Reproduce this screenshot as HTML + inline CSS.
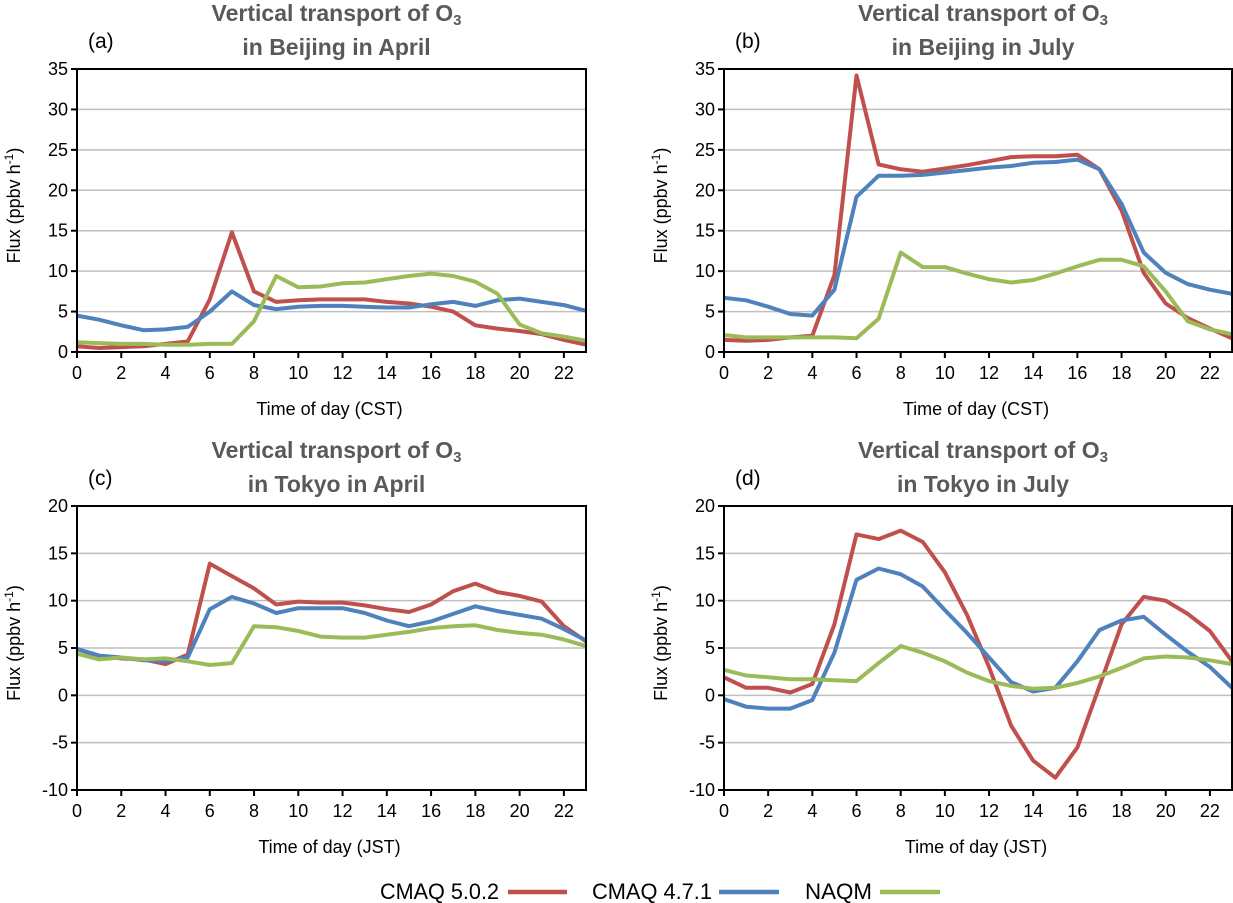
<!DOCTYPE html>
<html><head><meta charset="utf-8">
<style>
body{margin:0;background:#fff;}
svg{display:block;font-family:"Liberation Sans",sans-serif;}
</style></head>
<body>
<svg id="chart" width="1233" height="903" viewBox="0 0 1233 903" xmlns="http://www.w3.org/2000/svg">
<g font-size="22" fill="#000">
  <text x="380" y="899" textLength="119" lengthAdjust="spacingAndGlyphs">CMAQ 5.0.2</text>
  <line x1="508" y1="892" x2="567" y2="892" stroke="#C0504D" stroke-width="4.5"/>
  <text x="592" y="899" textLength="120" lengthAdjust="spacingAndGlyphs">CMAQ 4.7.1</text>
  <line x1="719" y1="892" x2="779" y2="892" stroke="#4F81BD" stroke-width="4.5"/>
  <text x="805" y="899" textLength="67" lengthAdjust="spacingAndGlyphs">NAQM</text>
  <line x1="880" y1="892" x2="940" y2="892" stroke="#9BBB59" stroke-width="4.5"/>
</g>
</svg>
<script>
const hours = [0,1,2,3,4,5,6,7,8,9,10,11,12,13,14,15,16,17,18,19,20,21,22,23];
const xTickLabels = ["0","2","4","6","8","10","12","14","16","18","20","22"];
const yTicksBeijing = [0,5,10,15,20,25,30,35];
const yTicksTokyo = [-10,-5,0,5,10,15,20];
const seriesNames = ["CMAQ 5.0.2","CMAQ 4.7.1","NAQM"];

const aRed = [0.7,0.5,0.6,0.7,1.0,1.3,6.5,14.8,7.5,6.2,6.4,6.5,6.5,6.5,6.2,6.0,5.6,5.0,3.3,2.9,2.6,2.2,1.5,0.9];
const aBlue = [4.5,4.0,3.3,2.7,2.8,3.1,5.0,7.5,5.8,5.3,5.6,5.7,5.7,5.6,5.5,5.5,5.9,6.2,5.7,6.4,6.6,6.2,5.8,5.1];
const aGreen = [1.2,1.1,1.0,1.0,0.9,0.9,1.0,1.0,3.8,9.4,8.0,8.1,8.5,8.6,9.0,9.4,9.7,9.4,8.7,7.2,3.4,2.3,1.9,1.4];

const bRed = [1.5,1.4,1.5,1.8,2.0,9.5,34.2,23.2,22.6,22.3,22.7,23.1,23.6,24.1,24.2,24.2,24.4,22.6,17.5,9.8,6.0,4.2,2.9,1.7];
const bBlue = [6.7,6.4,5.6,4.7,4.5,7.7,19.2,21.8,21.8,21.9,22.2,22.5,22.8,23.0,23.4,23.5,23.8,22.6,18.3,12.3,9.8,8.4,7.7,7.2];
const bGreen = [2.1,1.8,1.8,1.8,1.8,1.8,1.7,4.1,12.3,10.5,10.5,9.7,9.0,8.6,8.9,9.7,10.6,11.4,11.4,10.6,7.5,3.8,2.8,2.2];

const cRed = [4.9,4.1,3.9,3.8,3.3,4.3,13.9,12.6,11.3,9.6,9.9,9.8,9.8,9.5,9.1,8.8,9.6,11.0,11.8,10.9,10.5,9.9,7.3,5.7];
const cBlue = [4.9,4.2,4.0,3.7,3.6,4.0,9.1,10.4,9.7,8.7,9.2,9.2,9.2,8.7,7.9,7.3,7.8,8.6,9.4,8.9,8.5,8.1,7.0,5.8];
const cGreen = [4.4,3.8,4.0,3.8,3.9,3.6,3.2,3.4,7.3,7.2,6.8,6.2,6.1,6.1,6.4,6.7,7.1,7.3,7.4,6.9,6.6,6.4,5.9,5.2];

const dRed = [1.9,0.8,0.8,0.3,1.2,7.5,17.0,16.5,17.4,16.2,13.0,8.5,3.0,-3.2,-6.9,-8.7,-5.5,1.0,7.5,10.4,10.0,8.6,6.8,3.6];
const dBlue = [-0.4,-1.2,-1.4,-1.4,-0.5,4.5,12.2,13.4,12.8,11.5,9.0,6.6,4.0,1.4,0.4,0.8,3.6,6.9,7.9,8.3,6.4,4.6,3.0,0.8];
const dGreen = [2.7,2.1,1.9,1.7,1.7,1.6,1.5,3.4,5.2,4.5,3.6,2.4,1.5,1.0,0.7,0.8,1.3,2.0,2.9,3.9,4.1,4.0,3.7,3.3];

const NS = "http://www.w3.org/2000/svg";
const svg = document.getElementById("chart");
const colors = ["#C0504D","#4F81BD","#9BBB59"];

function mk(tag, attrs, parent, text){
  const e = document.createElementNS(NS, tag);
  for (const k in attrs) e.setAttribute(k, attrs[k]);
  if (text !== undefined) e.textContent = text;
  parent.appendChild(e);
  return e;
}

const panels = [
  {id:"a", x0:77, x1:586, yT:69, yB:352, min:0, max:35, ticks:yTicksBeijing, t2:"in Beijing in April", xt:"Time of day (CST)", data:[aRed,aBlue,aGreen]},
  {id:"b", x0:724, x1:1232, yT:69, yB:352, min:0, max:35, ticks:yTicksBeijing, t2:"in Beijing in July", xt:"Time of day (CST)", data:[bRed,bBlue,bGreen]},
  {id:"c", x0:77, x1:586, yT:506, yB:790, min:-10, max:20, ticks:yTicksTokyo, t2:"in Tokyo in April", xt:"Time of day (JST)", data:[cRed,cBlue,cGreen]},
  {id:"d", x0:724, x1:1232, yT:506, yB:790, min:-10, max:20, ticks:yTicksTokyo, t2:"in Tokyo in July", xt:"Time of day (JST)", data:[dRed,dBlue,dGreen]}
];

panels.forEach(p => {
  const g = mk("g", {}, svg);
  
  
  const xS = h => p.x0 + (h - hours[0]) / (hours[hours.length-1] - hours[0]) * (p.x1 - p.x0);
  const yS = v => p.yB - (v - p.min) / (p.max - p.min) * (p.yB - p.yT);
  const cx = (p.x0 + p.x1) / 2 - 10;

  p.ticks.forEach(v => {
    const y = yS(v);
    if (v !== p.min && v !== p.max) {
      const gl = mk("line", {x1:p.x0, x2:p.x1, y1:y, y2:y, stroke:"#bfbfbf", "stroke-width":1.5}, g);
      
      
    }
    const tk = mk("line", {x1:p.x0-6, x2:p.x0, y1:y, y2:y, stroke:"#000", "stroke-width":2}, g);
    
    
    const tl = mk("text", {x:p.x0-9, y:y+6, "text-anchor":"end", "font-size":18}, g, String(v));
    
    
  });
  xTickLabels.forEach(lbl => {
    const x = xS(Number(lbl));
    const tk = mk("line", {x1:x, x2:x, y1:p.yB, y2:p.yB+6, stroke:"#000", "stroke-width":2}, g);
    
    
    const tl = mk("text", {x:x, y:p.yB+27, "text-anchor":"middle", "font-size":18}, g, lbl);
    
    
  });
  p.data.forEach((arr, si) => {
    const pts = arr.map((v, i) => xS(hours[i]).toFixed(1) + "," + yS(v).toFixed(1)).join(" ");
    const pl = mk("polyline", {points:pts, fill:"none", stroke:colors[si], "stroke-width":4, "stroke-linejoin":"round"}, g);
    
    
  });
  const fr = mk("rect", {x:p.x0, y:p.yT, width:p.x1-p.x0, height:p.yB-p.yT, fill:"none", stroke:"#000", "stroke-width":2}, g);
  
  
  const t1 = mk("text", {x:cx+15, y:p.yT-48, "text-anchor":"middle", "font-size":23, "font-weight":"bold", fill:"#595959"}, g);
  
  
  t1.appendChild(document.createTextNode("Vertical transport of O"));
  mk("tspan", {"font-size":15, dy:4}, t1, "3");
  const t2 = mk("text", {x:cx+15, y:p.yT-14, "text-anchor":"middle", "font-size":23, "font-weight":"bold", fill:"#595959"}, g, p.t2);
  
  
  const pl = mk("text", {x:p.x0+11, y:p.yT-21, "font-size":21}, g, "(" + p.id + ")");
  
  
  const xt = mk("text", {x:cx+8, y:p.yB+63, "text-anchor":"middle", "font-size":18}, g, p.xt);
  
  
  const yx = p.x0 - 57, yy = (p.yT + p.yB) / 2 - 5;
  const yt = mk("text", {x:yx, y:yy, "text-anchor":"middle", "font-size":18, transform:"rotate(-90 " + yx + " " + yy + ")"}, g);
  
  
  yt.appendChild(document.createTextNode("Flux (ppbv h"));
  mk("tspan", {"font-size":12, dy:-7}, yt, "-1");
  mk("tspan", {dy:7}, yt, ")");
});
</script>
</body></html>
